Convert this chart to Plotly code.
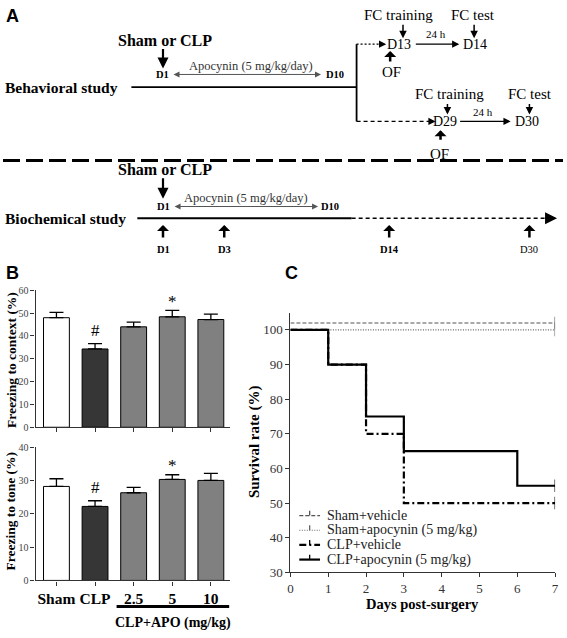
import plotly.graph_objects as go

# ---------------- Data ----------------
groups = ["Sham", "CLP", "2.5", "5", "10"]
context_mean = [48.0, 34.3, 44.0, 48.4, 47.2]
context_sem = [2.3, 2.3, 2.1, 2.8, 2.4]
tone_mean = [28.2, 22.2, 26.3, 30.3, 30.0]
tone_sem = [2.3, 1.7, 1.6, 1.4, 2.1]
context_marks = ["", "#", "", "*", ""]
tone_marks = ["", "#", "", "*", ""]

days_sham = [0, 7]
surv_sham_vehicle = [100, 100]
surv_sham_apo = [100, 100]
days_clp_vehicle = [0, 1, 2, 3, 7]
surv_clp_vehicle = [100, 90, 70, 50, 50]
days_clp_apo = [0, 1, 2, 3, 6, 7]
surv_clp_apo = [100, 90, 75, 65, 55, 55]
survival_ticks = [30, 40, 50, 60, 70, 80, 90, 100]
day_ticks = [0, 1, 2, 3, 4, 5, 6, 7]
series_names = ["Sham+vehicle", "Sham+apocynin (5 mg/kg)", "CLP+vehicle", "CLP+apocynin (5 mg/kg)"]

# ---------------- Style ----------------
W, H = 567, 638
SERIF = "Liberation Serif"
SANS = "Liberation Sans"
bar_colors = ["#ffffff", "#363636", "#808080", "#808080", "#808080"]
sham_vehicle_offset = 2  # curves drawn slightly apart so they do not overlap
series_styles = [
    dict(color="#555555", width=1.2, dash="4px,2px"),
    dict(color="#666666", width=1.2, dash="1px,1.5px"),
    dict(color="black", width=2.2, dash="7px,3px,2px,3px"),
    dict(color="black", width=2.2, dash="solid"),
]


def px(x):
    return x / W


def py(y):
    return 1 - y / H


fig = go.Figure()

# ---- Panel B bars ----
for ax_x, ax_y, means, sems in (("x", "y", context_mean, context_sem), ("x2", "y2", tone_mean, tone_sem)):
    fig.add_trace(go.Bar(
        x=groups, y=means, xaxis=ax_x, yaxis=ax_y,
        marker=dict(color=bar_colors, line=dict(color="black", width=1)),
        width=0.67,
        error_y=dict(type="data", symmetric=False, array=sems, arrayminus=[0] * len(sems),
                     color="black", thickness=1.3, width=7),
        showlegend=False, hoverinfo="skip"))

# ---- Panel C survival ----
def marker_sizes(n):
    return [0] * (n - 1) + [9]

curves = [
    (days_sham, [v + sham_vehicle_offset for v in surv_sham_vehicle]),
    (days_sham, surv_sham_apo),
    (days_clp_vehicle, surv_clp_vehicle),
    (days_clp_apo, surv_clp_apo),
]
for (dx, dy), name, st in zip(curves, series_names, series_styles):
    fig.add_trace(go.Scatter(
        x=dx, y=dy, xaxis="x3", yaxis="y3", mode="lines+markers", name=name,
        line=dict(color=st["color"], width=st["width"], dash=st["dash"], shape="hv"),
        marker=dict(symbol="line-ns", size=marker_sizes(len(dx)),
                    line=dict(color=st["color"], width=1.5)),
        showlegend=False, hoverinfo="skip"))

annotations = []
shapes = []


def txt(x, y, s, size, bold=False, color="black", anchor="center", family=SERIF, angle=0):
    annotations.append(dict(x=px(x), y=py(y), xref="paper", yref="paper",
                            text=f"<b>{s}</b>" if bold else s, showarrow=False,
                            font=dict(family=family, size=size, color=color),
                            xanchor=anchor, yanchor="middle", textangle=angle))


def arrow(x, y, ax, ay, width=1.2, head=2, size=1.0, color="black", side="end"):
    annotations.append(dict(x=px(x), y=py(y), xref="paper", yref="paper", ax=ax, ay=ay,
                            text="", showarrow=True, arrowhead=head, arrowsize=size,
                            arrowwidth=width, arrowcolor=color, arrowside=side,
                            standoff=0, startstandoff=0))


def line(x0, y0, x1, y1, width=1.5, dash="solid", color="black"):
    shapes.append(dict(type="line", xref="paper", yref="paper", x0=px(x0), y0=py(y0),
                       x1=px(x1), y1=py(y1), line=dict(color=color, width=width, dash=dash)))


# ---- Panel A: behavioral study ----
txt(10, 10, "A", 18, bold=True, family=SANS)
txt(164, 35, "Sham or CLP", 16, bold=True)
arrow(162, 64, 0, -21, width=2.2, head=2, size=1.0)
txt(161, 70, "D1", 10.5, bold=True)
arrow(322, 70, -149, 0, width=1, head=2, size=1.2, color="#555555", side="end+start")
txt(251, 61, "Apocynin (5 mg/kg/day)", 12.5, color="#333333")
txt(336, 70, "D10", 10.5, bold=True)
txt(0, 83, "Behavioral study", 15.5, bold=True, anchor="left")
line(130, 83, 358, 83, width=1.8)
line(358, 39, 358, 118, width=1.8)
line(358, 39, 382, 39, width=1.3, dash="2px,2px")
arrow(388, 39, -6, 0, width=1.2, head=2, size=1.2)
txt(401, 39, "D13", 14)
arrow(462, 39, -45, 0, width=1.2, head=2, size=1.2)
txt(438, 29, "24 h", 11)
txt(478, 39, "D14", 14)
txt(400, 9, "FC training", 15)
arrow(405, 33, 0, -15, width=1.5, head=2, size=1.0)
txt(476, 9, "FC test", 15)
arrow(477, 33, 0, -15, width=1.5, head=2, size=1.0)
txt(393, 67, "OF", 15)
arrow(392, 46, 0, 12, width=2.5, head=1, size=0.8)
line(358, 118, 432, 118, width=1.3, dash="4px,3px")
arrow(438, 118, -6, 0, width=1.2, head=2, size=1.2)
txt(448, 118, "D29", 14)
arrow(514, 118, -52, 0, width=1.2, head=2, size=1.2)
txt(486, 108, "24 h", 11)
txt(531, 118, "D30", 14)
txt(452, 90, "FC training", 15)
arrow(450, 111, 0, -12, width=1.5, head=2, size=1.0)
txt(534, 90, "FC test", 15)
arrow(533, 111, 0, -12, width=1.5, head=2, size=1.0)
txt(442, 151, "OF", 15)
arrow(443, 127, 0, 11, width=2.5, head=1, size=0.8)
line(0, 158, 567, 158, width=3, dash="17px,6px")

# ---- Panel A: biochemical study ----
txt(164, 167, "Sham or CLP", 16, bold=True)
arrow(162, 197, 0, -22, width=2.2, head=2, size=1.0)
txt(163, 205, "D1", 10.5, bold=True)
arrow(319, 205, -145, 0, width=1, head=2, size=1.2, color="#555555", side="end+start")
txt(246, 196, "Apocynin (5 mg/kg/day)", 12.5, color="#333333")
txt(331, 205, "D10", 10.5, bold=True)
txt(0, 217, "Biochemical study", 15.5, bold=True, anchor="left")
line(136, 217, 353, 217, width=1.8)
line(353, 217, 548, 217, width=1.5, dash="4px,3px")
arrow(561, 217, -14, 0, width=1.5, head=2, size=1.6)
for xx, lab, b in ((162, "D1", True), (224, "D3", True), (391, "D14", True), (533, "D30", False)):
    arrow(xx, 224, 0, 14, width=2.5, head=1, size=0.8)
    txt(xx, 249, lab, 10.5, bold=b)

# ---- Panel labels ----
txt(10, 273, "B", 18, bold=True, family=SANS)
txt(292, 273, "C", 18, bold=True, family=SANS)

# ---- Panel B annotations (category index positions) ----
for xref, yref, means, sems, marks in (("x", "y", context_mean, context_sem, context_marks),
                                        ("x2", "y2", tone_mean, tone_sem, tone_marks)):
    for i, (m, s, mk) in enumerate(zip(means, sems, marks)):
        if mk:
            annotations.append(dict(x=i, y=m + s, xref=xref, yref=yref, text=mk, showarrow=False,
                                    font=dict(family=SERIF, size=17, color="black"),
                                    xanchor="center", yanchor="middle",
                                    yshift=13 if mk == "#" else 9))

txt(8, 362, "Freezing to context (%)", 13.5, bold=True, angle=-90)
txt(8, 516, "Freezing to tone (%)", 13.5, bold=True, angle=-90)
line(115, 614, 229, 614, width=3)
txt(172, 631, "CLP+APO (mg/kg)", 14, bold=True)

# ---- Panel C titles ----
txt(254, 446, "Survival rate (%)", 15, bold=True, angle=-90)
txt(425, 611, "Days post-surgery", 14.5, bold=True)

# ---- Panel C legend (drawn in the figure, GraphPad style) ----
for i, (name, st) in enumerate(zip(series_names, series_styles)):
    yy = 521 + 15 * i
    line(300, yy, 321, yy, width=st["width"], dash=st["dash"], color=st["color"])
    line(310.5, yy, 310.5, yy - 5, width=1.3, color=st["color"])
    txt(326, yy, name, 14, color="#222222", anchor="left")

tickfont_b = dict(family=SERIF, size=10, color="#444444")
axis_common = dict(showgrid=False, zeroline=False, showline=True, linecolor="#333333", linewidth=1.2,
                   ticks="outside", ticklen=4, tickcolor="#333333", tickwidth=1)

fig.update_layout(
    width=W, height=H, margin=dict(l=0, r=0, t=0, b=0),
    paper_bgcolor="white", plot_bgcolor="white",
    showlegend=False,
    xaxis=dict(domain=[px(33), px(230)], anchor="y", type="category", range=[-0.54, 4.5],
               showticklabels=False, **axis_common),
    yaxis=dict(domain=[py(430.7), py(290.7)], anchor="x", range=[0, 60], tickvals=[0, 10, 20, 30, 40, 50, 60],
               tickfont=tickfont_b, **axis_common),
    xaxis2=dict(domain=[px(33), px(230)], anchor="y2", type="category", range=[-0.54, 4.5],
                tickvals=groups, ticktext=[f"<b>{g}</b>" for g in groups],
                tickfont=dict(family=SERIF, size=15.5, color="black"), **axis_common),
    yaxis2=dict(domain=[py(587.3), py(451)], anchor="x2", range=[0, 40], tickvals=[0, 10, 20, 30, 40],
                tickfont=tickfont_b, **axis_common),
    xaxis3=dict(domain=[px(291), px(559)], anchor="y3", range=[0, 7], tickvals=day_ticks,
                tickfont=dict(family=SERIF, size=13, color="#333333"), **axis_common),
    yaxis3=dict(domain=[py(579), py(313.5)], anchor="x3", range=[30, 105], tickvals=survival_ticks,
                tickfont=dict(family=SERIF, size=13, color="#333333"), **axis_common),
    annotations=annotations, shapes=shapes,
)

fig.write_html("out.html", config={"displayModeBar": False},
               post_script="document.body.style.margin='0px';")
